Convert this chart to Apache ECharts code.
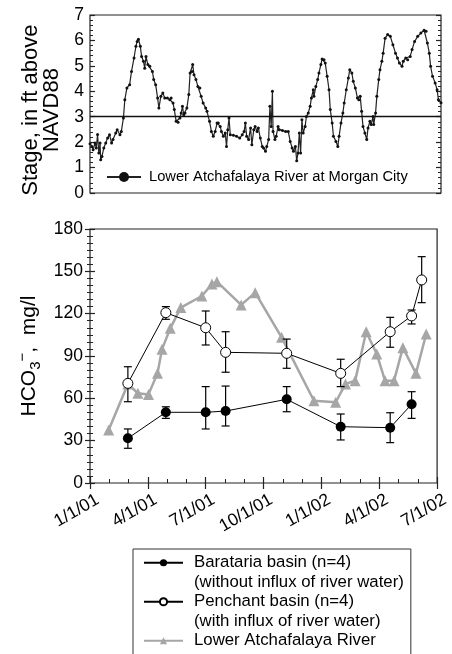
<!DOCTYPE html>
<html><head><meta charset="utf-8">
<script src="https://cdn.jsdelivr.net/npm/echarts@6/dist/echarts.min.js"></script>
<style>html,body{margin:0;padding:0;background:#fff}#c{width:452px;height:654px}</style>
</head><body><div id="c"></div>
<script>
// ---- tick labels ----
const xTickLabels = ['1/1/01','4/1/01','7/1/01','10/1/01','1/1/02','4/1/02','7/1/02'];

// ---- top panel: river stage (days since 2001-01-01, ft above NAVD88) ----
const stageDays = [
  0,3,5,8,10,12,14,16,17,19,
  22,25,28,31,34,36,40,42,46,48,
  51,53,56,60,63,67,70,72,74,77,
  79,82,84,86,89,92,96,98,101,104,
  106,109,112,115,119,123,125,128,130,133,
  136,139,141,143,145,147,150,153,155,158,
  159,161,164,167,170,172,175,179,181,185,
  188,191,194,197,199,202,204,207,210,212,
  214,216,218,223,228,233,237,240,242,244,
  247,250,252,255,257,260,262,265,268,270,
  273,275,278,280,282,284,285,288,290,293,
  295,300,305,309,312,315,317,320,322,324,
  326,328,330,332,335,337,340,343,345,348,
  349,352,355,357,360,362,365,367,370,373,
  375,378,380,384,387,389,392,395,397,400,
  403,405,408,410,413,416,418,420,422,424,
  427,430,432,435,437,440,441,444,446,449,
  451,454,456,459,463,467,471,475,478,481,
  485,487,491,494,498,501,505,510,515,520,
  523,525,528,530,533,537,540,542,546];
const stageValues = [
  1.94,1.83,1.70,1.97,1.77,2.30,1.57,1.97,1.31,1.44,
  1.77,1.97,2.16,2.29,1.97,2.10,2.36,2.49,2.29,2.42,
  2.95,3.67,4.13,4.26,4.78,5.31,5.77,5.96,6.05,5.77,
  5.37,5.18,4.91,5.37,5.05,4.98,4.78,4.46,4.26,3.74,
  3.34,3.80,3.93,3.74,3.74,3.67,3.74,3.54,3.28,2.82,
  2.78,2.95,3.15,3.41,3.08,3.15,3.34,3.87,4.72,4.78,
  5.05,4.65,4.46,4.19,4.13,3.80,3.54,3.34,3.21,2.82,
  2.42,2.23,2.42,2.75,2.75,2.62,2.42,2.23,2.36,1.83,
  2.49,2.95,2.29,2.27,2.23,2.16,2.29,2.42,2.75,2.23,
  2.10,2.56,1.90,2.49,2.62,2.42,2.56,2.16,1.83,1.77,
  1.64,1.83,2.10,3.41,2.62,4.00,2.42,2.10,2.23,2.62,
  2.49,2.46,2.42,2.42,2.03,1.77,1.64,1.83,1.27,1.57,
  2.36,1.57,2.88,2.36,2.62,3.01,3.15,3.41,3.74,4.06,
  3.80,4.19,4.46,4.72,5.05,5.27,5.24,5.11,4.59,4.06,
  3.28,2.75,2.23,2.03,1.83,2.23,2.75,3.15,3.54,4.06,
  4.52,4.85,4.72,4.39,4.13,3.74,3.67,3.80,3.21,2.62,
  2.36,2.10,2.56,2.82,2.69,3.01,2.69,3.15,3.80,4.46,
  4.85,5.18,5.50,6.09,6.23,6.16,5.83,5.50,5.31,5.11,
  4.98,5.18,5.31,5.24,5.37,5.64,5.96,6.16,6.29,6.40,
  6.36,5.90,5.50,4.98,4.59,4.33,4.06,3.67,3.55];
const stageReference = 3;

// ---- bottom panel: HCO3- (mg/l) ----
const basinDates = ['2001-02-28','2001-04-29','2001-07-01','2001-08-02','2001-11-07','2002-02-01','2002-04-18','2002-05-22','2002-06-07'];
const baratariaMean = [31.7,50.1,50.1,51.0,59.3,39.9,39.2,55.8];
const baratariaLow  = [24.6,45.8,38.3,40.4,50.5,30.5,28.6,45.8];
const baratariaHigh = [38.3,54.0,68.3,68.7,68.3,48.9,49.8,64.7];
const penchantMean = [70.6,120.7,110.0,92.6,91.9,77.7,107.2,118.4,143.9];
const penchantLow  = [57.6,116.0,97.8,78.5,81.3,68.3,96.2,112.7,127.8];
const penchantHigh = [82.4,125.0,121.9,107.2,102.0,87.7,117.4,122.6,160.4];
const riverDates = ['2001-01-31','2001-02-28','2001-03-16','2001-04-02','2001-04-16','2001-04-23','2001-05-06','2001-05-23','2001-06-25','2001-07-11','2001-07-19','2001-08-27','2001-09-18','2001-10-30','2001-12-20','2002-01-24','2002-02-08','2002-02-22','2002-03-11','2002-03-28','2002-04-10','2002-04-24','2002-05-08','2002-05-29','2002-06-14'];
const riverValues = [37.6,70.2,63.6,62.8,77.7,94.7,109.6,124.3,132.5,141.0,142.7,126.2,134.9,103.2,58.3,57.2,70.2,72.5,107.2,91.4,72.5,72.5,95.9,77.7,105.6];

// ---- helpers ----
function monthPosOfDate(dt){
  const y = dt.getFullYear(), m = dt.getMonth(), d = dt.getDate();
  const dim = new Date(y, m + 1, 0).getDate();
  return (y - 2001) * 12 + m + (d - 1) / dim;
}
function monthPos(s){ const p = s.split('-').map(Number); return monthPosOfDate(new Date(p[0], p[1]-1, p[2])); }
function dayPos(n){ return monthPosOfDate(new Date(2001, 0, 1 + n)); }

const FONT = '"Liberation Sans", Arial, Helvetica, sans-serif';
const AX = '#222';

function errorSeries(name, dates, low, high){
  return {
    name: name + ' err', type: 'custom', xAxisIndex: 1, yAxisIndex: 1, silent: true, z: 3,
    data: low.map((v, i) => [monthPos(dates[i]), v, high[i]]),
    encode: {x: 0, y: [1, 2]},
    renderItem: function(params, api){
      const x = api.value(0);
      const lo = api.coord([x, api.value(1)]);
      const hi = api.coord([x, api.value(2)]);
      const w = 4;
      const style = {stroke: '#000', lineWidth: 1.2, fill: null};
      return {type: 'group', children: [
        {type: 'line', shape: {x1: lo[0], y1: lo[1], x2: hi[0], y2: hi[1]}, style: style},
        {type: 'line', shape: {x1: lo[0]-w, y1: lo[1], x2: lo[0]+w, y2: lo[1]}, style: style},
        {type: 'line', shape: {x1: hi[0]-w, y1: hi[1], x2: hi[0]+w, y2: hi[1]}, style: style}
      ]};
    }
  };
}

const chart = echarts.init(document.getElementById('c'), null, {renderer: 'canvas'});
const option = {
  animation: false,
  backgroundColor: '#fff',
  textStyle: {fontFamily: FONT, color: '#000'},
  grid: [
    {left: 90, top: 15, width: 351, height: 178, show: true, borderColor: AX, borderWidth: 1.2, backgroundColor: 'transparent'},
    {left: 90, top: 229, width: 350, height: 254, show: true, borderColor: AX, borderWidth: 1.2, backgroundColor: 'transparent'}
  ],
  xAxis: [
    {gridIndex: 0, type: 'value', min: 0, max: 18, interval: 3,
     axisLine: {show: false}, axisTick: {show: false}, axisLabel: {show: false}, splitLine: {show: false}},
    {gridIndex: 1, type: 'value', min: 0, max: 18, interval: 3,
     axisLine: {show: false},
     axisTick: {show: true, inside: true, length: 6, lineStyle: {color: AX, width: 1.2}},
     minorTick: {show: true, splitNumber: 3, length: 4, lineStyle: {color: AX, width: 1}},
     axisLabel: {rotate: 30, margin: 20, fontSize: 17.5, color: '#000', fontFamily: FONT,
       padding: [0, -9, 0, 0],
       formatter: v => xTickLabels[Math.round(v / 3)]},
     splitLine: {show: false}, minorSplitLine: {show: false}},
    {gridIndex: 1, type: 'value', position: 'top', min: 0, max: 18, interval: 3,
     axisLine: {show: false},
     axisTick: {show: true, inside: true, length: 6, lineStyle: {color: AX, width: 1.2}},
     axisLabel: {show: false}, splitLine: {show: false}}
  ],
  yAxis: [
    {gridIndex: 0, type: 'value', min: 0, max: 7, interval: 1,
     axisLine: {show: false},
     axisTick: {show: true, inside: true, length: 5, lineStyle: {color: AX, width: 1.2}},
     minorTick: {show: true, splitNumber: 5, length: 3, lineStyle: {color: AX, width: 1}},
     axisLabel: {fontSize: 17.5, color: '#000', margin: 6, fontFamily: FONT},
     splitLine: {show: false}, minorSplitLine: {show: false},
     name: 'Stage, in ft above  \nNAVD88  ', nameLocation: 'middle', nameGap: 26, nameRotate: 90,
     nameTextStyle: {fontSize: 22, lineHeight: 21, color: '#000', fontFamily: FONT}},
    {gridIndex: 1, type: 'value', min: 0, max: 180, interval: 30,
     axisLine: {show: false},
     axisTick: {show: true, inside: true, length: 5, lineStyle: {color: AX, width: 1.2}},
     minorTick: {show: true, splitNumber: 6, length: 3, lineStyle: {color: AX, width: 1}},
     axisLabel: {fontSize: 17.5, color: '#000', margin: 7, fontFamily: FONT},
     splitLine: {show: false}, minorSplitLine: {show: false},
     name: 'HCO{sub|3}{sup|−}{t|,  mg/l}', nameLocation: 'middle', nameGap: 47, nameRotate: 90,
     nameTextStyle: {fontSize: 21, lineHeight: 28, color: '#000', fontFamily: FONT,
       rich: {
         sub: {fontSize: 15, lineHeight: 28, verticalAlign: 'bottom', fontFamily: FONT, color: '#000'},
         sup: {fontSize: 15, lineHeight: 28, verticalAlign: 'top', fontFamily: FONT, color: '#000'},
         t: {fontSize: 21, lineHeight: 28, fontFamily: FONT, color: '#000'}
       }}},
    {gridIndex: 1, type: 'value', position: 'right', min: 0, max: 180, interval: 30,
     axisLine: {show: false},
     axisTick: {show: true, inside: true, length: 5, lineStyle: {color: AX, width: 1.2}},
     minorTick: {show: true, splitNumber: 6, length: 3, lineStyle: {color: AX, width: 1}},
     axisLabel: {show: false}, splitLine: {show: false}, minorSplitLine: {show: false}},
    {gridIndex: 0, type: 'value', position: 'right', min: 0, max: 7, interval: 1,
     axisLine: {show: false},
     axisTick: {show: true, inside: true, length: 5, lineStyle: {color: AX, width: 1.2}},
     minorTick: {show: true, splitNumber: 5, length: 3, lineStyle: {color: AX, width: 1}},
     axisLabel: {show: false}, splitLine: {show: false}, minorSplitLine: {show: false}}
  ],
  legend: [
    {left: 106, top: 169, orient: 'horizontal', selectedMode: false, padding: 0,
     itemWidth: 34, itemHeight: 12.5,
     textStyle: {fontSize: 14.7, lineHeight: 16, color: '#000', fontFamily: FONT, padding: [0, 0, 0, 3]},
     data: ['Lower Atchafalaya River at Morgan City']},
    {left: 133, top: 549, height: 150, orient: 'vertical', selectedMode: false,
     padding: [4, 7, 30, 10], itemGap: 0, itemWidth: 39, itemHeight: 9,
     borderColor: '#333', borderWidth: 1, borderRadius: 0, backgroundColor: '#fff',
     textStyle: {fontSize: 16.8, lineHeight: 19.5, color: '#000', fontFamily: FONT, padding: [0, 0, 0, 6]},
     data: [
       {name: 'Barataria basin (n=4)'},
       {name: '(without influx of river water)', icon: 'none'},
       {name: 'Penchant basin (n=4)'},
       {name: '(with influx of river water)', icon: 'none'},
       {name: 'Lower Atchafalaya River'}
     ]}
  ],
  series: [
    {name: 'Lower Atchafalaya River at Morgan City', type: 'line', xAxisIndex: 0, yAxisIndex: 0,
     data: stageDays.map((d, i) => [dayPos(d), stageValues[i]]),
     symbol: 'circle', symbolSize: 3, showSymbol: true, showAllSymbol: true,
     lineStyle: {color: '#222', width: 1.2}, itemStyle: {color: '#111'}, z: 3,
     markLine: {silent: true, symbol: 'none', label: {show: false},
       lineStyle: {color: '#111', width: 1.4, type: 'solid'},
       data: [{yAxis: stageReference}]}},
    {name: 'Lower Atchafalaya River', type: 'line', xAxisIndex: 1, yAxisIndex: 1,
     data: riverDates.map((d, i) => [monthPos(d), riverValues[i]]),
     symbol: 'triangle', symbolSize: 11, showAllSymbol: true,
     lineStyle: {color: '#a6a6a6', width: 2.5}, itemStyle: {color: '#a6a6a6'}, z: 2},
    errorSeries('Barataria', basinDates, baratariaLow, baratariaHigh),
    errorSeries('Penchant', basinDates, penchantLow, penchantHigh),
    {name: 'Barataria basin (n=4)', type: 'line', xAxisIndex: 1, yAxisIndex: 1,
     data: baratariaMean.map((v, i) => [monthPos(basinDates[i]), v]),
     symbol: 'circle', symbolSize: 10, showAllSymbol: true,
     lineStyle: {color: '#000', width: 1}, itemStyle: {color: '#000'}, z: 4},
    {name: 'Penchant basin (n=4)', type: 'line', xAxisIndex: 1, yAxisIndex: 1,
     data: penchantMean.map((v, i) => [monthPos(basinDates[i]), v]),
     symbol: 'circle', symbolSize: 10, showAllSymbol: true,
     lineStyle: {color: '#000', width: 1}, itemStyle: {color: '#fff', borderColor: '#000', borderWidth: 1}, z: 4},
    {name: '(without influx of river water)', type: 'line', xAxisIndex: 1, yAxisIndex: 1, data: []},
    {name: '(with influx of river water)', type: 'line', xAxisIndex: 1, yAxisIndex: 1, data: []}
  ]
};
chart.setOption(option);
</script>
</body></html>
